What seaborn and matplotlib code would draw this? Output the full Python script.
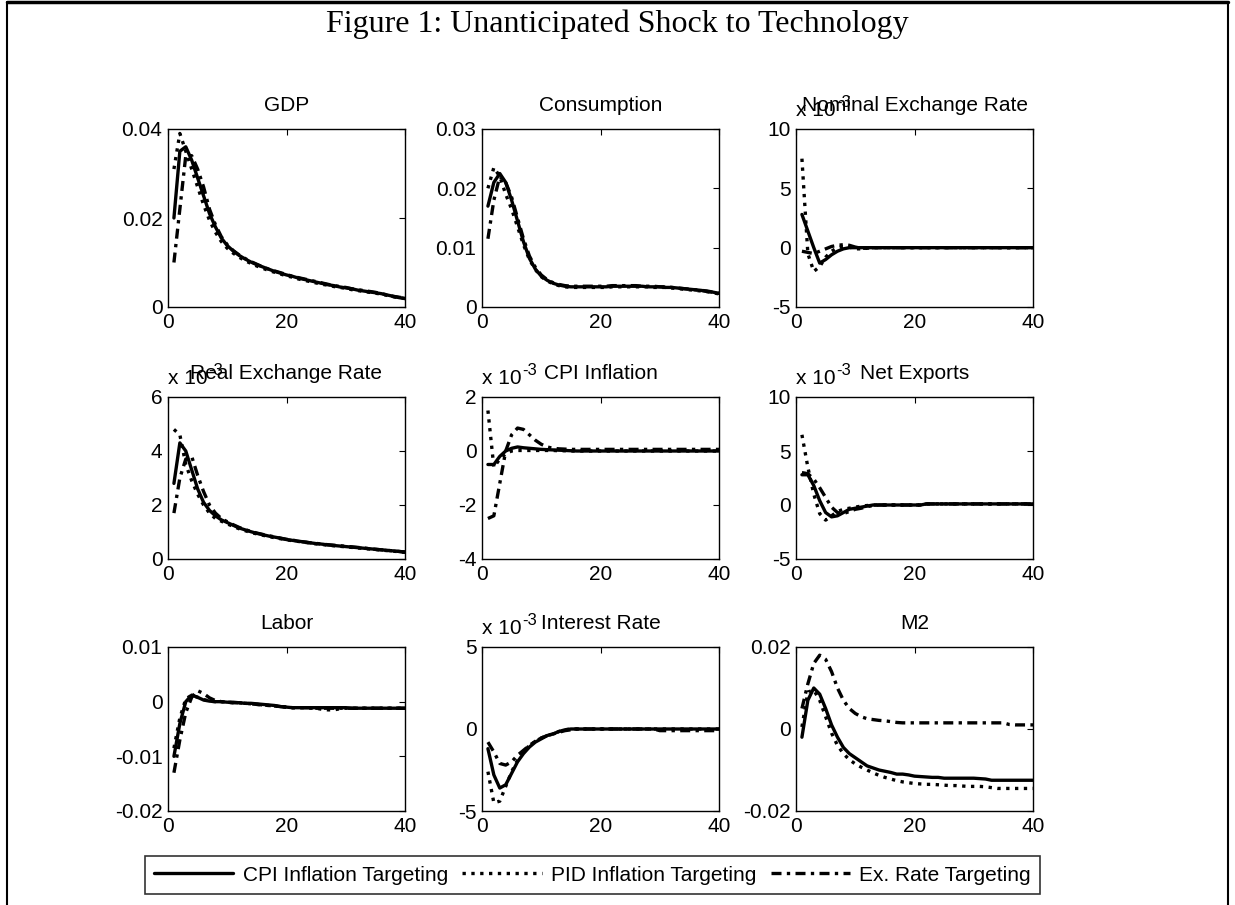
import numpy as np
import pandas as pd
import matplotlib
matplotlib.use("Agg")
import matplotlib.pyplot as plt
import matplotlib.transforms as mtransforms
from matplotlib.lines import Line2D
import seaborn as sns

# ---------------- data ----------------
periods = list(range(1, 41))
series_names = ["CPI Inflation Targeting", "PID Inflation Targeting", "Ex. Rate Targeting"]

gdp_cpi = [0.020, 0.035, 0.036, 0.033, 0.029, 0.025, 0.021, 0.018, 0.0155, 0.0138,
           0.0126, 0.0116, 0.0108, 0.0101, 0.0095, 0.0090, 0.0085, 0.0080, 0.0076, 0.0072,
           0.0069, 0.0065, 0.0062, 0.0059, 0.0056, 0.0053, 0.0050, 0.0048, 0.0045, 0.0043,
           0.0041, 0.0038, 0.0036, 0.0034, 0.0032, 0.0030, 0.0027, 0.0024, 0.0021, 0.0019]
gdp_pid = [0.031, 0.039, 0.035, 0.031, 0.027, 0.023, 0.0195, 0.0168, 0.0147, 0.0132,
           0.0121, 0.0112, 0.0104, 0.0098, 0.0092, 0.0087, 0.0082, 0.0078, 0.0074, 0.0070,
           0.0067, 0.0063, 0.0060, 0.0057, 0.0054, 0.0051, 0.0049, 0.0046, 0.0044, 0.0042,
           0.0039, 0.0037, 0.0035, 0.0033, 0.0031, 0.0029, 0.0026, 0.0023, 0.0021, 0.0019]
gdp_ex = [0.010, 0.022, 0.034, 0.034, 0.031, 0.027, 0.022, 0.0185, 0.0158, 0.0140,
          0.0127, 0.0117, 0.0109, 0.0102, 0.0096, 0.0090, 0.0085, 0.0081, 0.0077, 0.0073,
          0.0069, 0.0066, 0.0063, 0.0060, 0.0057, 0.0054, 0.0051, 0.0048, 0.0046, 0.0044,
          0.0041, 0.0039, 0.0037, 0.0035, 0.0033, 0.0030, 0.0027, 0.0024, 0.0022, 0.0020]

cons_cpi = [0.017, 0.021, 0.0225, 0.021, 0.018, 0.0145, 0.011, 0.0082, 0.0064, 0.0052,
            0.0045, 0.0040, 0.0037, 0.0035, 0.0034, 0.0034, 0.0034, 0.0034, 0.0034, 0.0034,
            0.0034, 0.0035, 0.0035, 0.0035, 0.0035, 0.0035, 0.0035, 0.0034, 0.0034, 0.0034,
            0.0033, 0.0033, 0.0032, 0.0031, 0.0030, 0.0029, 0.0028, 0.0026, 0.0025, 0.0023]
cons_pid = [0.020, 0.0235, 0.022, 0.019, 0.0165, 0.0135, 0.0105, 0.0080, 0.0063, 0.0051,
            0.0044, 0.0039, 0.0036, 0.0034, 0.0033, 0.0033, 0.0033, 0.0033, 0.0033, 0.0033,
            0.0033, 0.0034, 0.0034, 0.0034, 0.0034, 0.0034, 0.0034, 0.0034, 0.0033, 0.0033,
            0.0033, 0.0032, 0.0031, 0.0030, 0.0029, 0.0028, 0.0027, 0.0026, 0.0024, 0.0022]
cons_ex = [0.0115, 0.018, 0.022, 0.021, 0.0185, 0.015, 0.0115, 0.0086, 0.0067, 0.0054,
           0.0046, 0.0041, 0.0038, 0.0036, 0.0035, 0.0035, 0.0035, 0.0035, 0.0035, 0.0035,
           0.0035, 0.0036, 0.0036, 0.0036, 0.0036, 0.0036, 0.0035, 0.0035, 0.0035, 0.0034,
           0.0034, 0.0033, 0.0032, 0.0031, 0.0030, 0.0029, 0.0028, 0.0027, 0.0025, 0.0023]

# values in units of 10^-3
ner_cpi = [2.8, 1.4, 0.0, -1.3, -1.0, -0.6, -0.3, -0.1, 0.0, 0.0,
           0.0, 0.0, 0.0, 0.0, 0.0, 0.0, 0.0, 0.0, 0.0, 0.0,
           0.0, 0.0, 0.0, 0.0, 0.0, 0.0, 0.0, 0.0, 0.0, 0.0,
           0.0, 0.0, 0.0, 0.0, 0.0, 0.0, 0.0, 0.0, 0.0, 0.0]
ner_pid = [7.5, -0.5, -2.0, -1.6, -0.8, -0.3, 0.0, 0.1, 0.05, -0.1,
           -0.1, -0.05, 0.0, 0.0, 0.0, 0.0, 0.0, 0.0, 0.0, 0.0,
           0.0, 0.0, 0.0, 0.0, 0.0, 0.0, 0.0, 0.0, 0.0, 0.0,
           0.0, 0.0, 0.0, 0.0, 0.0, 0.0, 0.0, 0.0, 0.0, 0.0]
ner_ex = [-0.3, -0.4, -0.5, -0.3, -0.1, 0.1, 0.2, 0.25, 0.2, 0.05,
          -0.05, -0.05, 0.0, 0.0, 0.0, 0.0, 0.0, 0.0, 0.0, 0.0,
          0.0, 0.0, 0.0, 0.0, 0.0, 0.0, 0.0, 0.0, 0.0, 0.0,
          0.0, 0.0, 0.0, 0.0, 0.0, 0.0, 0.0, 0.0, 0.0, 0.0]

rer_cpi = [2.8, 4.3, 4.0, 3.3, 2.6, 2.1, 1.8, 1.6, 1.45, 1.35,
           1.25, 1.15, 1.08, 1.01, 0.95, 0.90, 0.85, 0.81, 0.77, 0.72,
           0.69, 0.66, 0.63, 0.60, 0.57, 0.55, 0.52, 0.50, 0.48, 0.46,
           0.44, 0.42, 0.40, 0.38, 0.36, 0.34, 0.32, 0.30, 0.28, 0.25]
rer_pid = [4.8, 4.6, 3.5, 2.9, 2.4, 2.0, 1.7, 1.5, 1.4, 1.3,
           1.21, 1.12, 1.05, 0.98, 0.93, 0.88, 0.83, 0.79, 0.75, 0.71,
           0.68, 0.65, 0.62, 0.59, 0.56, 0.54, 0.51, 0.49, 0.47, 0.45,
           0.43, 0.41, 0.39, 0.37, 0.35, 0.33, 0.31, 0.29, 0.27, 0.25]
rer_ex = [1.7, 3.0, 3.7, 3.8, 3.1, 2.5, 2.0, 1.7, 1.5, 1.38,
          1.27, 1.17, 1.09, 1.02, 0.96, 0.91, 0.86, 0.82, 0.77, 0.73,
          0.70, 0.66, 0.63, 0.60, 0.58, 0.55, 0.53, 0.51, 0.49, 0.47,
          0.45, 0.43, 0.41, 0.38, 0.36, 0.34, 0.32, 0.30, 0.28, 0.26]

cpi_cpi = [-0.5, -0.5, -0.2, 0.0, 0.1, 0.15, 0.12, 0.1, 0.08, 0.06,
           0.05, 0.04, 0.03, 0.02, 0.01, 0.0, 0.0, 0.0, 0.0, 0.0,
           0.0, 0.0, 0.0, 0.0, 0.0, 0.0, 0.0, 0.0, 0.0, 0.0,
           0.0, 0.0, 0.0, 0.0, 0.0, 0.0, 0.0, 0.0, 0.0, 0.0]
cpi_pid = [1.5, -0.6, -0.3, -0.1, 0.0, 0.02, 0.02, 0.02, 0.02, 0.02,
           0.02, 0.02, 0.01, 0.01, 0.0, 0.0, 0.0, 0.0, 0.0, 0.0,
           0.0, 0.0, 0.0, 0.0, 0.0, 0.0, 0.0, 0.0, 0.0, 0.0,
           0.0, 0.0, 0.0, 0.0, 0.0, 0.0, 0.0, 0.0, 0.0, 0.0]
cpi_ex = [-2.5, -2.4, -1.2, 0.0, 0.6, 0.85, 0.8, 0.6, 0.4, 0.25,
          0.15, 0.1, 0.08, 0.07, 0.06, 0.06, 0.06, 0.06, 0.06, 0.06,
          0.06, 0.06, 0.06, 0.06, 0.06, 0.06, 0.06, 0.06, 0.06, 0.06,
          0.06, 0.06, 0.06, 0.06, 0.06, 0.06, 0.06, 0.06, 0.06, 0.06]

nx_cpi = [2.8, 2.8, 1.8, 0.4, -0.7, -1.1, -1.0, -0.7, -0.4, -0.3,
          -0.2, -0.1, 0.0, 0.0, 0.0, 0.0, 0.0, 0.0, 0.0, 0.0,
          0.0, 0.1, 0.1, 0.1, 0.1, 0.1, 0.1, 0.1, 0.1, 0.1,
          0.1, 0.1, 0.1, 0.1, 0.1, 0.1, 0.1, 0.1, 0.1, 0.1]
nx_pid = [6.5, 3.5, 1.0, -0.8, -1.4, -1.0, -0.6, -0.4, -0.3, -0.2,
          -0.1, -0.05, 0.0, 0.0, 0.0, 0.0, 0.0, 0.0, 0.0, 0.0,
          0.0, 0.1, 0.1, 0.1, 0.1, 0.1, 0.1, 0.1, 0.1, 0.1,
          0.1, 0.1, 0.1, 0.1, 0.1, 0.1, 0.1, 0.1, 0.1, 0.1]
nx_ex = [3.0, 2.9, 2.4, 1.6, 0.7, -0.2, -0.7, -0.8, -0.6, -0.4,
         -0.3, -0.15, -0.05, 0.0, 0.0, 0.0, 0.0, 0.0, 0.0, 0.0,
         0.0, 0.1, 0.1, 0.1, 0.1, 0.1, 0.1, 0.1, 0.1, 0.1,
         0.1, 0.1, 0.1, 0.1, 0.1, 0.1, 0.1, 0.1, 0.1, 0.1]

labor_cpi = [-0.010, -0.004, 0.0, 0.0012, 0.0008, 0.0003, 0.0001, 0.0, 0.0, -0.0001,
             -0.0001, -0.0002, -0.0003, -0.0003, -0.0004, -0.0005, -0.0006, -0.0007, -0.0009, -0.0010,
             -0.0011, -0.0011, -0.0011, -0.0011, -0.0011, -0.0011, -0.0011, -0.0011, -0.0011, -0.0011,
             -0.0012, -0.0012, -0.0012, -0.0012, -0.0012, -0.0012, -0.0012, -0.0012, -0.0012, -0.0012]
labor_pid = [-0.0085, -0.003, 0.0005, 0.0012, 0.0008, 0.0004, 0.0001, 0.0, 0.0, -0.0001,
             -0.0002, -0.0002, -0.0003, -0.0004, -0.0005, -0.0006, -0.0007, -0.0008, -0.0009, -0.0010,
             -0.0011, -0.0011, -0.0011, -0.0012, -0.0012, -0.0014, -0.0015, -0.0015, -0.0013, -0.0012,
             -0.0012, -0.0012, -0.0012, -0.0012, -0.0012, -0.0012, -0.0012, -0.0012, -0.0012, -0.0012]
labor_ex = [-0.013, -0.007, -0.002, 0.0008, 0.0020, 0.0015, 0.0007, 0.0002, 0.0, -0.0001,
            -0.0002, -0.0002, -0.0003, -0.0004, -0.0005, -0.0006, -0.0007, -0.0008, -0.0009, -0.0010,
            -0.0011, -0.0011, -0.0011, -0.0011, -0.0012, -0.0012, -0.0012, -0.0012, -0.0012, -0.0012,
            -0.0012, -0.0012, -0.0012, -0.0012, -0.0012, -0.0012, -0.0012, -0.0012, -0.0012, -0.0012]

rate_cpi = [-1.2, -2.8, -3.6, -3.4, -2.7, -2.0, -1.5, -1.1, -0.8, -0.6,
            -0.4, -0.3, -0.15, -0.05, 0.0, 0.0, 0.0, 0.0, 0.0, 0.0,
            0.0, 0.0, 0.0, 0.0, 0.0, 0.0, 0.0, 0.0, 0.0, 0.0,
            0.0, 0.0, 0.0, 0.0, 0.0, 0.0, 0.0, 0.0, 0.0, 0.0]
rate_pid = [-2.6, -4.5, -4.4, -3.5, -2.6, -1.9, -1.4, -1.0, -0.75, -0.55,
            -0.4, -0.3, -0.15, -0.05, 0.0, 0.0, 0.0, 0.0, 0.0, 0.0,
            0.0, 0.0, 0.0, 0.0, 0.0, 0.0, 0.0, 0.0, 0.0, 0.0,
            0.0, 0.0, 0.0, 0.0, 0.0, 0.0, 0.0, 0.0, 0.0, 0.0]
rate_ex = [-0.8, -1.4, -2.1, -2.2, -2.0, -1.6, -1.3, -1.0, -0.75, -0.55,
           -0.4, -0.3, -0.2, -0.1, -0.05, 0.0, 0.0, 0.0, 0.0, 0.0,
           0.0, 0.0, 0.0, 0.0, 0.0, 0.0, 0.0, 0.0, 0.0, -0.1,
           -0.1, -0.1, -0.1, -0.1, -0.1, -0.1, -0.1, -0.1, -0.1, -0.1]

m2_cpi = [-0.002, 0.007, 0.010, 0.0085, 0.005, 0.001, -0.002, -0.0045, -0.006, -0.007,
          -0.008, -0.009, -0.0095, -0.0100, -0.0103, -0.0106, -0.0110, -0.0110, -0.0112, -0.0115,
          -0.0116, -0.0117, -0.0118, -0.0118, -0.0120, -0.0120, -0.0120, -0.0120, -0.0120, -0.0120,
          -0.0121, -0.0122, -0.0125, -0.0125, -0.0125, -0.0125, -0.0125, -0.0125, -0.0125, -0.0125]
m2_pid = [0.0005, 0.009, 0.0095, 0.007, 0.003, -0.001, -0.004, -0.006, -0.0075, -0.0085,
          -0.0093, -0.0100, -0.0107, -0.0113, -0.0118, -0.0122, -0.0126, -0.0129, -0.0131, -0.0133,
          -0.0134, -0.0135, -0.0135, -0.0136, -0.0137, -0.0138, -0.0138, -0.0139, -0.0140, -0.0140,
          -0.0140, -0.0141, -0.0143, -0.0145, -0.0145, -0.0145, -0.0145, -0.0145, -0.0145, -0.0145]
m2_ex = [0.005, 0.011, 0.016, 0.018, 0.017, 0.014, 0.010, 0.007, 0.005, 0.0038,
         0.0030, 0.0025, 0.0023, 0.0021, 0.0020, 0.0018, 0.0016, 0.0015, 0.0015, 0.0015,
         0.0015, 0.0015, 0.0015, 0.0015, 0.0015, 0.0015, 0.0015, 0.0015, 0.0015, 0.0015,
         0.0015, 0.0015, 0.0015, 0.0015, 0.0015, 0.0011, 0.0010, 0.0010, 0.0010, 0.0010]

panel_titles = ["GDP", "Consumption", "Nominal Exchange Rate",
                "Real Exchange Rate", "CPI Inflation", "Net Exports",
                "Labor", "Interest Rate", "M2"]
panel_data = [(gdp_cpi, gdp_pid, gdp_ex), (cons_cpi, cons_pid, cons_ex), (ner_cpi, ner_pid, ner_ex),
              (rer_cpi, rer_pid, rer_ex), (cpi_cpi, cpi_pid, cpi_ex), (nx_cpi, nx_pid, nx_ex),
              (labor_cpi, labor_pid, labor_ex), (rate_cpi, rate_pid, rate_ex), (m2_cpi, m2_pid, m2_ex)]
panel_scaled = [False, False, True, True, True, True, False, True, False]
panel_yticks = [[0, 0.02, 0.04], [0, 0.01, 0.02, 0.03], [-5, 0, 5, 10],
                [0, 2, 4, 6], [-4, -2, 0, 2], [-5, 0, 5, 10],
                [-0.02, -0.01, 0, 0.01], [-5, 0, 5], [-0.02, 0, 0.02]]
panel_yticklabels = [["0", "0.02", "0.04"], ["0", "0.01", "0.02", "0.03"], ["-5", "0", "5", "10"],
                     ["0", "2", "4", "6"], ["-4", "-2", "0", "2"], ["-5", "0", "5", "10"],
                     ["-0.02", "-0.01", "0", "0.01"], ["-5", "0", "5"], ["-0.02", "0", "0.02"]]
xticks = [0, 20, 40]
xticklabels = ["0", "20", "40"]
exponent_base = "x 10"
exponent_power = "-3"

# ---------------- style ----------------
sns.set_style("white")
plt.rcParams["font.family"] = ["Liberation Sans", "DejaVu Sans"]
plt.rcParams["axes.unicode_minus"] = False
plt.rcParams["text.color"] = "black"
plt.rcParams["axes.titlecolor"] = "black"
plt.rcParams["axes.labelcolor"] = "black"

W, H = 1235, 905
fig = plt.figure(figsize=(W / 100, H / 100), dpi=100)
fig.patch.set_facecolor("white")
renderer = fig.canvas.get_renderer()

col_left = [168, 482, 796]
col_width = 237
row_top = [129, 397, 647]
row_bottom = [307, 559, 811]

LW = 2.4
DASHDOT = (3.0, 1.6, 1.0, 1.6)
for i in range(9):
    r, c = divmod(i, 3)
    left = col_left[c] / W
    bottom = 1 - row_bottom[r] / H
    height = (row_bottom[r] - row_top[r]) / H
    ax = fig.add_axes([left, bottom, col_width / W, height])
    for k, vals in enumerate(panel_data[i]):
        df = pd.DataFrame({"t": periods, "v": vals})
        sns.lineplot(data=df, x="t", y="v", ax=ax, color="black", linewidth=LW,
                     linestyle="-" if k == 0 else (":" if k == 1 else "-."))
        line = ax.lines[-1]
        if k == 2:
            line.set_dashes(DASHDOT)
    yt = panel_yticks[i]
    ax.set_xlim(0, 40)
    ax.set_ylim(yt[0], yt[-1])
    ax.set_xticks(xticks)
    ax.set_xticklabels(xticklabels)
    ax.set_yticks(yt)
    ax.set_yticklabels(panel_yticklabels[i])
    ax.set_xlabel("")
    ax.set_ylabel("")
    ax.tick_params(direction="in", length=4, width=0.8, top=True, right=True,
                   labelsize=15, pad=4, colors="black")
    for sp in ax.spines.values():
        sp.set_linewidth(1.0)
        sp.set_color("black")
    ax.set_title(panel_titles[i], fontsize=15, pad=13, color="black")
    if panel_scaled[i]:
        tr = mtransforms.offset_copy(ax.transAxes, fig=fig, x=0, y=13, units="dots")
        t1 = ax.text(0, 1, exponent_base, transform=tr, ha="left", va="baseline", fontsize=15)
        wpx = t1.get_window_extent(renderer=renderer).width
        tr2 = mtransforms.offset_copy(ax.transAxes, fig=fig, x=wpx + 1, y=22, units="dots")
        ax.text(0, 1, exponent_power, transform=tr2, ha="left", va="baseline", fontsize=12)

# legend
leg_box = (143 / W, 1 - 897 / H, (1042 - 143) / W, (897 - 853) / H)
legend_handles = [Line2D([], [], color="black", lw=LW, linestyle="-"),
                  Line2D([], [], color="black", lw=LW, linestyle=":"),
                  Line2D([], [], color="black", lw=LW, dashes=DASHDOT)]
leg = fig.legend(legend_handles, series_names, loc="center", bbox_to_anchor=leg_box,
                 ncol=3, frameon=True, fancybox=False, fontsize=15,
                 handlelength=3.8, handletextpad=0.45, columnspacing=0.7, borderaxespad=0,
                 borderpad=0.45)
leg.get_frame().set_edgecolor("black")
leg.get_frame().set_linewidth(1.2)

# figure title
fig.text(0.5, 1 - 24 / H, "Figure 1: Unanticipated Shock to Technology",
         family="Liberation Serif", fontsize=23, ha="center", va="center", color="black")

# outer frame lines
fig.add_artist(Line2D([7 / W, 7 / W], [0, 1 - 2 / H], color="black", lw=1.5,
                      transform=fig.transFigure))
fig.add_artist(Line2D([1228 / W, 1228 / W], [0, 1 - 2 / H], color="black", lw=1.5,
                      transform=fig.transFigure))
fig.add_artist(Line2D([7 / W, 1228 / W], [1 - 2 / H, 1 - 2 / H], color="black", lw=2.5,
                      transform=fig.transFigure))

fig.savefig("out.png", dpi=100)
